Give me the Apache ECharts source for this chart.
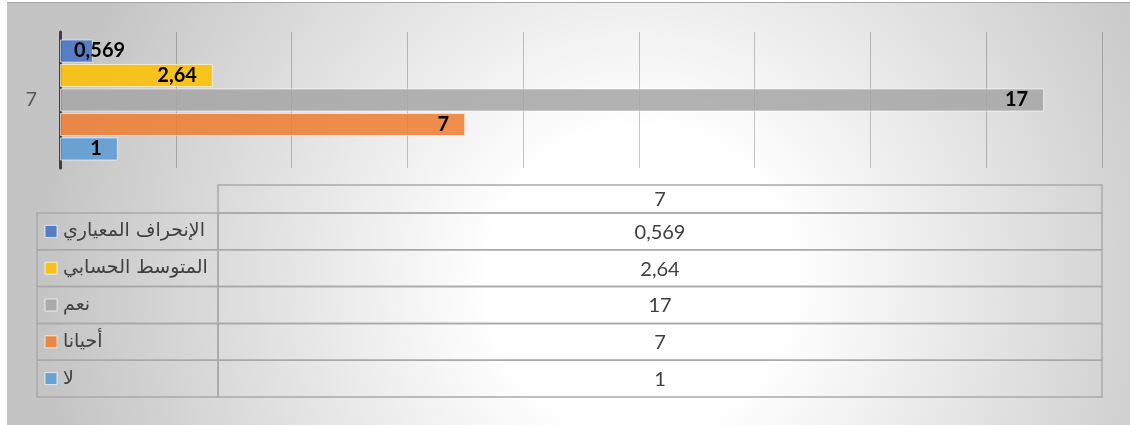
<!DOCTYPE html>
<html>
<head>
<meta charset="utf-8">
<script src="https://cdn.jsdelivr.net/npm/echarts@6/dist/echarts.min.js"></script>
<style>
  html, body { margin: 0; padding: 0; background: #fff; }
  #chart { width: 1130px; height: 425px; }
</style>
</head>
<body>
<div id="chart"></div>
<script>
// 类别 (y 轴)
const categories = ['7'];
// 系列名称 — 表格顺序，从上到下
const seriesNames = ['الإنحراف المعياري', 'المتوسط الحسابي', 'نعم', 'أحيانا', 'لا'];
// 系列数值
const seriesValues = [0.569, 2.64, 17, 7, 1];
// x 轴刻度
const xMin = 0;
const xMax = 18;
const xStep = 2;

const seriesColors = ['#4472C4', '#FFC000', '#A5A5A5', '#ED7D31', '#5B9BD5'];
const textColor = '#404040';
const cellLine = '#a9a9a9';
const labelColW = 181;

// 0.569 -> 0,569
const fmt = (v) => String(v).replace('.', ',');
const rgba = (hex, a) => {
  const n = parseInt(hex.slice(1), 16);
  return 'rgba(' + (n >> 16) + ',' + ((n >> 8) & 255) + ',' + (n & 255) + ',' + a + ')';
};

const chart = echarts.init(document.getElementById('chart'));

const barSeries = seriesNames.map((name, i) => ({
  name: name,
  type: 'bar',
  xAxisIndex: 0,
  yAxisIndex: 0,
  data: [seriesValues[i]],
  barGap: '6%',
  barCategoryGap: '11%',
  itemStyle: {
    color: rgba(seriesColors[i], 0.86),
    borderColor: 'rgba(255,255,255,0.6)',
    borderWidth: 1,
  },
  label: {
    show: true,
    // the smallest bar is too short, Excel pushes its label to the right
    position: i === 0 ? [14, '50%'] : 'insideRight',
    verticalAlign: 'middle',
    distance: 16,
    formatter: (p) => fmt(p.value),
    color: '#000',
    fontFamily: 'Lato',
    fontWeight: 'bold',
    fontSize: 20,
  },
}));

// 数据表格 — header row (category)
const headerSeries = {
  type: 'custom',
  xAxisIndex: 1,
  yAxisIndex: 1,
  data: categories.map((c, i) => [0, i]),
  renderItem(params, api) {
    const i = params.dataIndex;
    const l = api.coord([0, i]);
    const r = api.coord([1, i]);
    const h = api.size([0, 1])[1];
    return {
      type: 'group',
      children: [
        { type: 'rect', shape: { x: l[0], y: l[1] - h / 2, width: r[0] - l[0], height: h },
          style: { fill: 'none', stroke: cellLine, lineWidth: 1.5 } },
        { type: 'text', style: { text: categories[i], x: (l[0] + r[0]) / 2, y: l[1] + 1,
          align: 'center', verticalAlign: 'middle', fill: textColor, fontSize: 20, fontFamily: 'Lato' } },
      ],
    };
  },
};

// 数据表格 — one row per series
const rowSeries = {
  type: 'custom',
  xAxisIndex: 2,
  yAxisIndex: 2,
  data: seriesNames.map((n, i) => [0, i]),
  renderItem(params, api) {
    const i = params.dataIndex;
    const l = api.coord([0, i]);
    const r = api.coord([1, i]);
    const h = api.size([0, 1])[1];
    const y0 = l[1] - h / 2;
    const x0 = l[0] - labelColW;
    return {
      type: 'group',
      children: [
        { type: 'rect', shape: { x: x0, y: y0, width: labelColW, height: h },
          style: { fill: 'none', stroke: cellLine, lineWidth: 1.5 } },
        { type: 'rect', shape: { x: l[0], y: y0, width: r[0] - l[0], height: h },
          style: { fill: 'none', stroke: cellLine, lineWidth: 1.5 } },
        { type: 'text', style: { text: fmt(seriesValues[i]), x: (l[0] + r[0]) / 2, y: l[1] + 1,
          align: 'center', verticalAlign: 'middle', fill: textColor, fontSize: 20, fontFamily: 'Lato' } },
        // 图例方块
        { type: 'rect', shape: { x: x0 + 8, y: l[1] - 6, width: 12, height: 12 },
          style: { fill: rgba(seriesColors[i], 0.86), stroke: 'rgba(255,255,255,0.7)', lineWidth: 1 } },
        { type: 'text', style: { text: seriesNames[i], x: x0 + 26, y: l[1], align: 'left',
          verticalAlign: 'middle', fill: textColor, fontSize: 19, fontFamily: 'DejaVu Sans' } },
      ],
    };
  },
};

const hiddenValueAxis = (idx) => ({
  type: 'value', gridIndex: idx, min: 0, max: 1, show: false,
});
const hiddenCatAxis = (idx, data) => ({
  type: 'category', gridIndex: idx, data: data, inverse: true, show: false,
});

const option = {
  animation: false,
  graphic: [
    {
      type: 'rect',
      z: -10,
      silent: true,
      shape: { x: 7, y: 2, width: 1123, height: 423 },
      style: {
        fill: new echarts.graphic.RadialGradient(640, 280, 600, [
          { offset: 0, color: '#ffffff' },
          { offset: 0.25, color: '#ffffff' },
          { offset: 1, color: '#c4c4c4' },
        ], true),
      },
    },
    {
      type: 'line',
      z: -9,
      silent: true,
      shape: { x1: 7, y1: 2.5, x2: 1130, y2: 2.5 },
      style: { stroke: '#a6a6a6', lineWidth: 1 },
    },
  ],
  grid: [
    { left: 60, right: 28, top: 32, height: 136, outerBoundsMode: 'none' },
    { left: 218, right: 28, top: 185, height: 28, outerBoundsMode: 'none' },
    { left: 218, right: 28, top: 213, height: 184, outerBoundsMode: 'none' },
  ],
  xAxis: [
    {
      type: 'value',
      gridIndex: 0,
      min: xMin,
      max: xMax,
      interval: xStep,
      axisLabel: { show: false },
      axisLine: { show: false },
      axisTick: { show: false },
      splitLine: { show: true, lineStyle: { color: 'rgba(0,0,0,0.22)', width: 1 } },
    },
    hiddenValueAxis(1),
    hiddenValueAxis(2),
  ],
  yAxis: [
    {
      type: 'category',
      gridIndex: 0,
      data: categories,
      axisLine: { show: true, lineStyle: { color: '#404040', width: 3 } },
      axisTick: { show: false },
      axisLabel: { color: '#595959', fontSize: 20, fontFamily: 'Lato', margin: 23 },
    },
    hiddenCatAxis(1, categories),
    hiddenCatAxis(2, seriesNames),
  ],
  series: [...barSeries, headerSeries, rowSeries],
};

chart.setOption(option);
</script>
</body>
</html>
